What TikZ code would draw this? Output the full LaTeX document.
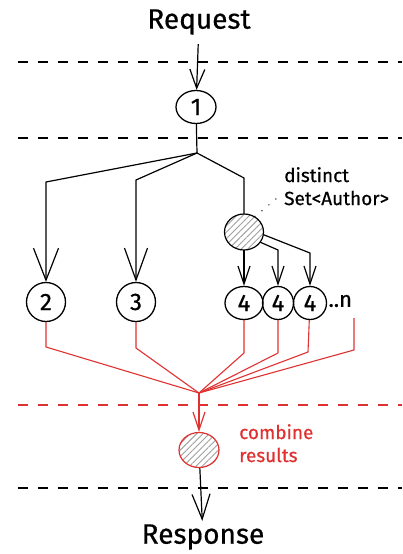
\documentclass[tikz,border=0pt]{standalone}
\usepackage{fontspec}
\setmainfont[FakeBold=0.6]{Fira Sans}
\usetikzlibrary{arrows.meta,patterns.meta,shapes.geometric}
\definecolor{mergered}{HTML}{E03131}

\begin{document}
\begin{tikzpicture}[x=1pt,y=-1pt,
  numnode/.style={draw,ellipse,line width=1.3pt,inner sep=0pt,font=\fontsize{24}{24}\selectfont},
  hatchnode/.style={draw,ellipse,line width=1.2pt,inner sep=0pt,
    pattern={Lines[angle=45,distance=4.5pt,line width=0.9pt]},pattern color=gray!75},
  flow/.style={line width=1.2pt,line join=round},
  merge/.style={mergered,line width=1.1pt,line join=round},
  sepline/.style={line width=1.2pt,dash pattern=on 10pt off 10pt},
  tip/.style n args={2}{-{Straight Barb[length=#1,width=#2,line width=1.2pt]}},
  big/.style={font=\fontsize{28}{28}\selectfont}]
\useasboundingbox (0,0) rectangle (402,554);

% layers
\draw[sepline] (18,62) -- (402,62);
\draw[sepline] (18,138) -- (402,138);
\draw[sepline,mergered] (18,405) -- (402,405);
\draw[sepline] (18,488) -- (402,488);

\node[big] (req) at (199,22) {Request};
\node[numnode,minimum width=40pt,minimum height=33pt] (one) at (196,107) {1};
\node[numnode,minimum width=39pt,minimum height=39pt] (two) at (46,302) {2};
\node[numnode,minimum width=39pt,minimum height=39pt] (three) at (136,302) {3};
\node[hatchnode,minimum width=39pt,minimum height=36pt] (dist) at (244,232) {};
\node[numnode,minimum width=38pt,minimum height=33pt] (fourA) at (244,303) {4};
\node[numnode,minimum width=31pt,minimum height=33pt] (fourB) at (278,303) {4};
\node[numnode,minimum width=33pt,minimum height=33pt] (fourC) at (310,303) {4};
\node[anchor=west,font=\fontsize{22}{22}\selectfont] (more) at (325,301) {..n};
\node[anchor=north west,align=left,inner sep=0pt,font=\fontsize{19}{23}\selectfont] (note) at (284,167) {distinct\\Set<Author>};
\node[hatchnode,draw=mergered,minimum width=40pt,minimum height=35pt] (mix) at (199,450) {};
\node[anchor=north west,align=left,inner sep=0pt,mergered,font=\fontsize{19}{23}\selectfont] (mixnote) at (239,424) {combine\\results};
\node[big] (resp) at (203,537) {Response};

\draw[flow,tip={19pt}{15pt},shorten <=6pt] (req) -- (one);

\coordinate (fork) at (197,153);
\coordinate (k2) at (46,182);
\coordinate (k3) at (136,180);
\coordinate (k4) at (244,178);
\draw[flow] (one) -- (fork);
\draw[flow,tip={32pt}{25pt}] (fork) -- (k2) -- (two);
\draw[flow,tip={32pt}{23pt}] (fork) -- (k3) -- (three);
\draw[flow] (fork) -- (k4) -- (dist);

\coordinate (kB) at (278,250);
\coordinate (kC) at (310,253);
\draw[flow,tip={18pt}{12pt}] (dist) -- (fourA);
\draw[flow,tip={18pt}{12pt}] (dist.-32) -- (kB) -- (fourB);
\draw[flow,tip={18pt}{12pt}] (dist.-8) -- (kC) -- (fourC);

\coordinate (tag) at (276,199);
\draw[line width=1.5pt,line cap=round,dash pattern=on 0.1pt off 9pt] (dist.55) -- (tag);

% results
\coordinate (join) at (199,393);
\coordinate (r2) at (46,347);
\coordinate (r3) at (136,348);
\coordinate (rA) at (244,353);
\coordinate (rB) at (278,353);
\coordinate (rC) at (308,352);
\coordinate (nTop) at (354,318);
\coordinate (rN) at (354,350);
\draw[merge] (two) -- (r2) -- (join);
\draw[merge] (three) -- (r3) -- (join);
\draw[merge] (fourA) -- (rA) -- (join);
\draw[merge] (fourB) -- (rB) -- (join);
\draw[merge] (fourC) -- (rC) -- (join);
\draw[merge] (nTop) -- (rN) -- (join);

\draw[merge,tip={18pt}{12pt}] (join) -- (mix);
\draw[flow,tip={25pt}{18pt}] (mix) -- (resp);
\end{tikzpicture}
\end{document}
